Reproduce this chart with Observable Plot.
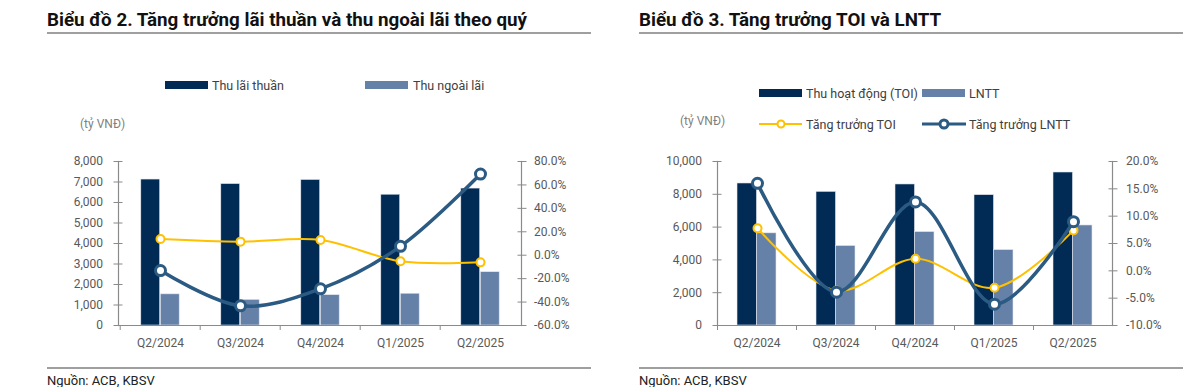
<!DOCTYPE html>
<html>
<head>
<meta charset="utf-8">
<script src="https://cdn.jsdelivr.net/npm/d3@7"></script>
<script src="https://cdn.jsdelivr.net/npm/@observablehq/plot@0.6"></script>
<style>
  body { margin: 0; background: #fff; }
  #page { position: relative; width: 1200px; height: 387px; overflow: hidden; font-family: Roboto, "Noto Sans", sans-serif; }
  .layer { position: absolute; top: 140px; }
  .layer svg { overflow: visible; }
  #deco { position: absolute; left: 0; top: 0; }
  #deco .title { font-weight: 700; font-size: 18.8px; fill: #111; }
  #deco .leg { font-size: 12.5px; fill: #404040; }
  #deco .unit { font-size: 12px; fill: #7f7f7f; }
  #deco .src { font-size: 13px; fill: #222; }
</style>
</head>
<body>
<div id="page"></div>
<script>
// ---------- data ----------
const quarters = ["Q2/2024", "Q3/2024", "Q4/2024", "Q1/2025", "Q2/2025"];

const titles = ["Biểu đồ 2. Tăng trưởng lãi thuần và thu ngoài lãi theo quý", "Biểu đồ 3. Tăng trưởng TOI và LNTT"];

// Biểu đồ 2
const series1Names = ["Thu lãi thuần", "Thu ngoài lãi"];
const netInterest = [7120, 6900, 7100, 6380, 6680];
const nonInterest = [1520, 1250, 1480, 1550, 2600];
const netInterestGrowth = [13.9, 11.6, 13.0, -5.2, -6.1];
const nonInterestGrowth = [-13.1, -43.2, -28.7, 7.6, 69.3];
const leftTicks1 = [0, 1000, 2000, 3000, 4000, 5000, 6000, 7000, 8000];
const rightTicks1 = [-60, -40, -20, 0, 20, 40, 60, 80];

// Biểu đồ 3
const series2Names = ["Thu hoạt động (TOI)", "LNTT", "Tăng trưởng TOI", "Tăng trưởng LNTT"];
const toi = [8660, 8150, 8600, 7950, 9330];
const pbt = [5620, 4850, 5700, 4600, 6100];
const toiGrowth = [7.8, -3.6, 2.2, -3.1, 7.4];
const pbtGrowth = [16.0, -3.9, 12.6, -6.1, 9.0];
const leftTicks2 = [0, 2000, 4000, 6000, 8000, 10000];
const rightTicks2 = [-10, -5, 0, 5, 10, 15, 20];

const unitLabel = "(tỷ VNĐ)";
const sourceLabel = "Nguồn: ACB, KBSV";

// ---------- styles ----------
const dark = "#012a54", light = "#6681a7", yellow = "#ffc000", blue = "#2b5a83";
const axisGray = "#8a8a8a", textGray = "#595959";
const W = 600, H = 220, MT = 21, MB = 35;
const baseStyle = { fontFamily: "Roboto, 'Noto Sans', sans-serif", fontSize: "12px", color: textGray, background: "transparent", overflow: "visible" };
const thousands = d3.format(",");

function barLayer(cfg) {
  const data = quarters.map((q, i) => ({ q, a: cfg.a[i], b: cfg.b[i] }));
  const half = (W - cfg.mL - cfg.mR) / quarters.length / 2;
  const barW = 19.5;
  return Plot.plot({
    width: W, height: H, marginLeft: cfg.mL, marginRight: cfg.mR, marginTop: MT, marginBottom: MB,
    style: baseStyle,
    x: { type: "band", domain: quarters, padding: 0, label: null },
    y: { domain: [0, cfg.yMax], label: null },
    marks: [
      Plot.barY(data, { x: "q", y: "a", fill: dark, insetLeft: half - barW, insetRight: half, stroke: "#e4e8ee", strokeWidth: 0.6 }),
      Plot.barY(data, { x: "q", y: "b", fill: light, insetLeft: half, insetRight: half - barW, stroke: "#e4e8ee", strokeWidth: 0.6 }),
      Plot.ruleY([0], { stroke: axisGray, strokeWidth: 1.2 }),
      Plot.frame({ anchor: "left", stroke: axisGray, strokeWidth: 1.2 }),
      Plot.axisY({ ticks: cfg.ticks, tickFormat: thousands, tickSize: 9, dx: 4.5, tickPadding: 11, stroke: axisGray, fill: textGray, fontSize: 12 }),
      Plot.axisX({ tickSize: 0, tickPadding: 13, fill: textGray, fontSize: 12 }),
      Plot.axisX({ tickSize: 5, tickFormat: () => "", dx: -half, stroke: axisGray })
    ]
  });
}

function lineLayer(cfg) {
  const data = quarters.map((q, i) => ({ q, a: cfg.ga[i], b: cfg.gb[i] }));
  return Plot.plot({
    width: W, height: H, marginLeft: cfg.mL, marginRight: cfg.mR, marginTop: MT, marginBottom: MB,
    style: baseStyle,
    x: { type: "point", domain: quarters, padding: 0.5, axis: null },
    y: { domain: [cfg.rTicks[0], cfg.rTicks[cfg.rTicks.length - 1]], label: null },
    marks: [
      Plot.frame({ anchor: "right", stroke: axisGray, strokeWidth: 1.2 }),
      Plot.axisY({ anchor: "right", ticks: cfg.rTicks, tickFormat: d => d.toFixed(1) + "%", tickSize: 9, dx: -4.5, tickPadding: cfg.rPad, stroke: axisGray, fill: textGray, fontSize: 12 }),
      Plot.line(data, { x: "q", y: "a", stroke: yellow, strokeWidth: 2, curve: "catmull-rom" }),
      Plot.dot(data, { x: "q", y: "a", r: 4, fill: "white", stroke: yellow, strokeWidth: 2 }),
      Plot.line(data, { x: "q", y: "b", stroke: blue, strokeWidth: 3.5, curve: "catmull-rom" }),
      Plot.dot(data, { x: "q", y: "b", r: 5, fill: "white", stroke: blue, strokeWidth: 3 })
    ]
  });
}

const page = document.getElementById("page");

// decorations: titles, rules, legends, source
const NS = "http://www.w3.org/2000/svg";
const deco = document.createElementNS(NS, "svg");
deco.setAttribute("id", "deco");
deco.setAttribute("width", 1200);
deco.setAttribute("height", 387);
function el(tag, attrs, text) {
  const e = document.createElementNS(NS, tag);
  for (const k in attrs) e.setAttribute(k, attrs[k]);
  if (text != null) e.textContent = text;
  deco.appendChild(e);
  return e;
}
el("text", { x: 47, y: 26, class: "title" }, titles[0]);
el("text", { x: 639, y: 26, class: "title" }, titles[1]);
el("line", { x1: 47, x2: 591, y1: 33, y2: 33, stroke: "#7f7f7f", "stroke-width": 1.5 });
el("line", { x1: 639, x2: 1183, y1: 33, y2: 33, stroke: "#7f7f7f", "stroke-width": 1.5 });
el("line", { x1: 47, x2: 591, y1: 368, y2: 368, stroke: "#7f7f7f", "stroke-width": 1.5 });
el("line", { x1: 639, x2: 1183, y1: 368, y2: 368, stroke: "#7f7f7f", "stroke-width": 1.5 });
el("text", { x: 47, y: 380, class: "src", "dominant-baseline": "central" }, sourceLabel);
el("text", { x: 639, y: 380, class: "src", "dominant-baseline": "central" }, sourceLabel);
// legend, Biểu đồ 2
el("rect", { x: 165, y: 81, width: 43, height: 8, fill: dark });
el("text", { x: 212, y: 85, class: "leg", "dominant-baseline": "central" }, series1Names[0]);
el("rect", { x: 365, y: 81, width: 43, height: 8, fill: light });
el("text", { x: 413, y: 85, class: "leg", "dominant-baseline": "central" }, series1Names[1]);
el("text", { x: 80, y: 124, class: "unit", "dominant-baseline": "central" }, unitLabel);
// legend, Biểu đồ 3
el("rect", { x: 759, y: 89, width: 43, height: 8, fill: dark });
el("text", { x: 806, y: 93, class: "leg", "dominant-baseline": "central" }, series2Names[0]);
el("rect", { x: 922, y: 89, width: 43, height: 8, fill: light });
el("text", { x: 969, y: 93, class: "leg", "dominant-baseline": "central" }, series2Names[1]);
el("line", { x1: 759, x2: 802, y1: 124, y2: 124, stroke: yellow, "stroke-width": 2 });
el("circle", { cx: 781, cy: 124, r: 3.5, fill: "white", stroke: yellow, "stroke-width": 2 });
el("text", { x: 806, y: 124, class: "leg", "dominant-baseline": "central" }, series2Names[2]);
el("line", { x1: 922, x2: 966, y1: 124, y2: 124, stroke: blue, "stroke-width": 3 });
el("circle", { cx: 944, cy: 124, r: 4, fill: "white", stroke: blue, "stroke-width": 3 });
el("text", { x: 969, y: 124, class: "leg", "dominant-baseline": "central" }, series2Names[3]);
el("text", { x: 680, y: 121, class: "unit", "dominant-baseline": "central" }, unitLabel);
page.appendChild(deco);

function addLayer(node, left) {
  const d = document.createElement("div");
  d.className = "layer";
  d.style.left = left + "px";
  d.appendChild(node);
  page.appendChild(d);
}

const c1 = { mL: 118, mR: 79, yMax: 8000, ticks: leftTicks1, a: netInterest, b: nonInterest, ga: netInterestGrowth, gb: nonInterestGrowth, rTicks: rightTicks1, rPad: 8 };
const c2 = { mL: 117, mR: 88, yMax: 10000, ticks: leftTicks2, a: toi, b: pbt, ga: toiGrowth, gb: pbtGrowth, rTicks: rightTicks2, rPad: 9 };

addLayer(barLayer(c1), 0);
addLayer(lineLayer(c1), 0);
addLayer(barLayer(c2), 600);
addLayer(lineLayer(c2), 600);
</script>
</body>
</html>
